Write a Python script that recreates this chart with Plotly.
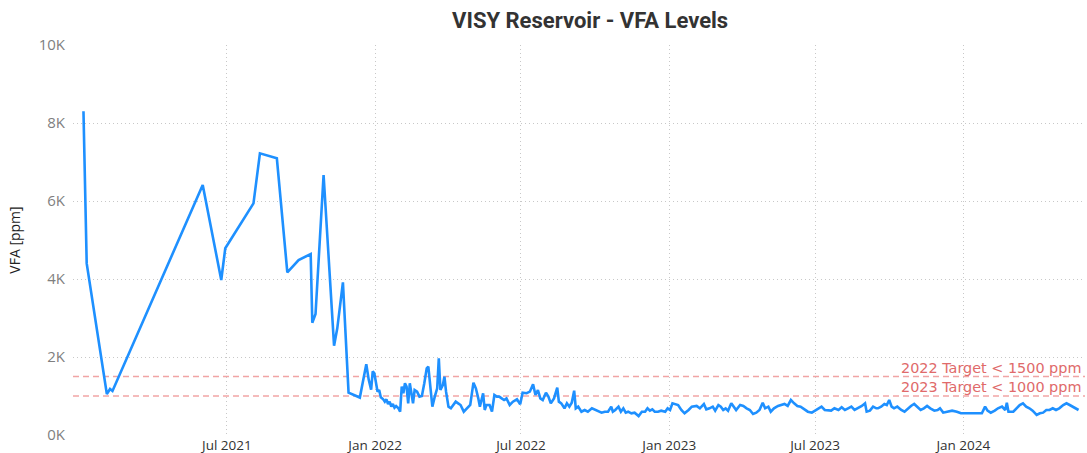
import plotly.graph_objects as go

# ---- data ----
dates = [
    "2021-01-04", "2021-01-08", "2021-02-02", "2021-02-06", "2021-02-09",
    "2021-06-01", "2021-06-24", "2021-06-29", "2021-08-03", "2021-08-11",
    "2021-09-01", "2021-09-14", "2021-09-28", "2021-10-13", "2021-10-15",
    "2021-10-19", "2021-10-29", "2021-11-11", "2021-11-15", "2021-11-22",
    "2021-11-29", "2021-12-13", "2021-12-21", "2021-12-24", "2021-12-27",
    "2021-12-29", "2021-12-31",
    "2022-01-02", "2022-01-04", "2022-01-06", "2022-01-08", "2022-01-11",
    "2022-01-13", "2022-01-15", "2022-01-17", "2022-01-19", "2022-01-21",
    "2022-01-23", "2022-01-25", "2022-01-27", "2022-01-30", "2022-02-01",
    "2022-02-03", "2022-02-05", "2022-02-07", "2022-02-09", "2022-02-11",
    "2022-02-13", "2022-02-15", "2022-02-17", "2022-02-19", "2022-02-22",
    "2022-02-25", "2022-02-28", "2022-03-03", "2022-03-06", "2022-03-08",
    "2022-03-10", "2022-03-13", "2022-03-16", "2022-03-19", "2022-03-21",
    "2022-03-23", "2022-03-26", "2022-03-28", "2022-03-30", "2022-04-02",
    "2022-04-05", "2022-04-08", "2022-04-11", "2022-04-14", "2022-04-17",
    "2022-04-21", "2022-04-25", "2022-04-29", "2022-05-03", "2022-05-06",
    "2022-05-09", "2022-05-11", "2022-05-15", "2022-05-17", "2022-05-19",
    "2022-05-23", "2022-05-26", "2022-05-29", "2022-06-01", "2022-06-04",
    "2022-06-07", "2022-06-10", "2022-06-13", "2022-06-17", "2022-06-21",
    "2022-06-26", "2022-06-30", "2022-07-03", "2022-07-08", "2022-07-12",
    "2022-07-16", "2022-07-19", "2022-07-22", "2022-07-25", "2022-07-28",
    "2022-08-01", "2022-08-04", "2022-08-07", "2022-08-11", "2022-08-15",
    "2022-08-17", "2022-08-20", "2022-08-24", "2022-08-27", "2022-08-30",
    "2022-09-02", "2022-09-05", "2022-09-07", "2022-09-10", "2022-09-14",
    "2022-09-18", "2022-09-22", "2022-09-27", "2022-10-01", "2022-10-05",
    "2022-10-09", "2022-10-13", "2022-10-17", "2022-10-21", "2022-10-23",
    "2022-10-26", "2022-10-30", "2022-11-02", "2022-11-05", "2022-11-08",
    "2022-11-11", "2022-11-15", "2022-11-19", "2022-11-24", "2022-11-28",
    "2022-12-02", "2022-12-05", "2022-12-08", "2022-12-11", "2022-12-14",
    "2022-12-18", "2022-12-22", "2022-12-27", "2022-12-30",
    "2023-01-02", "2023-01-05", "2023-01-08", "2023-01-12", "2023-01-16",
    "2023-01-20", "2023-01-25", "2023-01-29", "2023-02-04", "2023-02-08",
    "2023-02-13", "2023-02-16", "2023-02-20", "2023-02-24", "2023-02-27",
    "2023-03-03", "2023-03-06", "2023-03-09", "2023-03-12", "2023-03-15",
    "2023-03-19", "2023-03-22", "2023-03-25", "2023-03-30", "2023-04-03",
    "2023-04-07", "2023-04-11", "2023-04-15", "2023-04-19", "2023-04-23",
    "2023-04-27", "2023-04-30", "2023-05-04", "2023-05-07", "2023-05-11",
    "2023-05-16", "2023-05-20", "2023-05-24", "2023-05-28", "2023-06-01",
    "2023-06-05", "2023-06-09", "2023-06-13", "2023-06-18", "2023-06-22",
    "2023-06-27", "2023-07-01", "2023-07-05", "2023-07-09", "2023-07-13",
    "2023-07-17", "2023-07-21", "2023-07-25", "2023-07-30", "2023-08-03",
    "2023-08-07", "2023-08-11", "2023-08-15", "2023-08-19", "2023-08-23",
    "2023-08-28", "2023-09-01", "2023-09-03", "2023-09-07", "2023-09-11",
    "2023-09-15", "2023-09-17", "2023-09-21", "2023-09-25", "2023-09-28",
    "2023-10-01", "2023-10-04", "2023-10-07", "2023-10-11", "2023-10-16",
    "2023-10-20", "2023-10-24", "2023-10-28", "2023-11-01", "2023-11-05",
    "2023-11-09", "2023-11-13", "2023-11-17", "2023-11-21", "2023-11-26",
    "2023-11-30", "2023-12-03", "2023-12-07", "2023-12-12", "2023-12-18",
    "2023-12-24", "2023-12-29",
    "2024-01-24", "2024-01-28", "2024-01-31", "2024-02-04", "2024-02-09",
    "2024-02-13", "2024-02-18", "2024-02-22", "2024-02-24", "2024-02-26",
    "2024-03-03", "2024-03-07", "2024-03-11", "2024-03-15", "2024-03-19",
    "2024-03-23", "2024-03-27", "2024-04-01", "2024-04-05", "2024-04-09",
    "2024-04-13", "2024-04-17", "2024-04-21", "2024-04-25", "2024-04-29",
    "2024-05-04", "2024-05-08", "2024-05-12", "2024-05-16", "2024-05-20",
    "2024-05-23",
]

vfa_ppm = [
    8300, 4400, 1050, 1180, 1130,
    6410, 3975, 4787, 5940, 7222,
    7094, 4171, 4487, 4641, 2880,
    3102, 6667, 2290, 2735, 3915,
    1085, 960, 1815, 1420, 1160,
    1630, 1581,
    1325, 1111, 1154, 966, 915,
    855, 915, 795, 855, 727,
    795, 701, 744, 684, 598,
    1239, 1069, 1325, 1239, 812,
    1325, 1026, 812, 1154, 1111,
    983, 1000, 1325, 1709, 1752,
    1325, 727, 983, 1197, 1966,
    1154, 1282, 1496, 1111, 727,
    684, 769, 855, 812, 769,
    598, 684, 769, 1342, 1197,
    940, 727, 1069, 641, 769,
    769, 598, 1026, 983, 983,
    940, 897, 940, 769, 855,
    915, 790, 1086, 1070, 1111,
    1299, 1026, 1154, 940, 897,
    1086, 983, 812, 940, 1214,
    855, 812, 684, 812, 727,
    829, 1137, 684, 727, 598,
    641, 598, 684, 641, 598,
    573, 598, 598, 727, 598,
    641, 727, 598, 684, 573,
    598, 556, 573, 487, 598,
    598, 684, 624, 658, 598,
    598, 624, 598, 684,
    641, 812, 795, 769, 641,
    556, 641, 727, 744, 684,
    795, 658, 684, 727, 624,
    769, 727, 641, 684, 624,
    812, 727, 641, 769, 744,
    684, 641, 539, 573, 641,
    829, 684, 727, 598, 684,
    744, 769, 795, 744, 897,
    812, 744, 727, 658, 598,
    573, 624, 684, 727, 641,
    641, 624, 684, 641, 710,
    641, 684, 727, 641, 684,
    744, 812, 598, 624, 727,
    684, 684, 727, 795, 769,
    897, 727, 684, 727, 641,
    598, 684, 744, 795, 727,
    641, 684, 744, 684, 624,
    641, 684, 573, 598, 624,
    598, 556,
    556, 727, 624, 573, 624,
    684, 727, 641, 829, 598,
    598, 684, 769, 812, 727,
    684, 624, 513, 556, 573,
    641, 641, 684, 641, 684,
    769, 812, 769, 727, 684,
    641,
]

y_tick_values = [0, 2000, 4000, 6000, 8000, 10000]
y_tick_labels = ["0K", "2K", "4K", "6K", "8K", "10K"]
x_tick_values = ["2021-07-01", "2022-01-01", "2022-07-01", "2023-01-01", "2023-07-01", "2024-01-01"]
x_tick_labels = ["Jul 2021", "Jan 2022", "Jul 2022", "Jan 2023", "Jul 2023", "Jan 2024"]

target_values = [1500, 1000]
target_labels = ["2022 Target < 1500 ppm", "2023 Target < 1000 ppm"]

# ---- figure ----
fig = go.Figure()
fig.add_trace(go.Scatter(
    x=dates, y=vfa_ppm, mode="lines",
    line=dict(color="#1E90FF", width=2.6),
    showlegend=False,
))

for val, lab in zip(target_values, target_labels):
    fig.add_shape(type="line", xref="paper", x0=0, x1=1, yref="y", y0=val, y1=val,
                  line=dict(color="rgba(235,125,125,0.7)", width=1.5, dash="6px,4px"),
                  layer="below")
    fig.add_annotation(xref="paper", x=0.997, yref="y", y=val, text=lab,
                       showarrow=False, xanchor="right", yanchor="bottom", yshift=0,
                       borderpad=0,
                       font=dict(family="DejaVu Sans, sans-serif", size=14.4, color="#e06a6a"))

grid_color = "#c8c8c8"
fig.update_layout(
    width=1087, height=453,
    margin=dict(l=73, r=2, t=45, b=18, autoexpand=False),
    plot_bgcolor="white", paper_bgcolor="white",
    title=dict(text="<b>VISY Reservoir - VFA Levels</b>", x=0.511, xref="paper",
               xanchor="center", y=0.955, yanchor="middle",
               font=dict(family="Roboto, sans-serif", size=22, color="#333333")),
    font=dict(family="Open Sans, sans-serif", size=13, color="#7f7f7f"),
)
fig.update_xaxes(
    range=["2020-12-22", "2024-05-31"],
    tickvals=x_tick_values, ticktext=x_tick_labels,
    showgrid=True, gridcolor=grid_color, griddash="1px,3px", gridwidth=1,
    zeroline=False, showline=False, ticks="",
    tickfont=dict(size=13.5, color="#333333"),
)
fig.update_yaxes(
    range=[0, 10000],
    tickvals=y_tick_values, ticktext=y_tick_labels,
    showgrid=True, gridcolor=grid_color, griddash="1px,3px", gridwidth=1,
    zeroline=False, showline=False, ticks="",
    ticklabelstandoff=7,
    tickfont=dict(size=15, color="#7f7f7f"),
    title=dict(text="VFA [ppm]", standoff=14,
               font=dict(family="Open Sans, sans-serif", size=14, color="#222222")),
)

fig.write_html("out.html", config={"displayModeBar": False},
               post_script="document.body.style.margin='0';document.body.style.overflow='hidden';")
